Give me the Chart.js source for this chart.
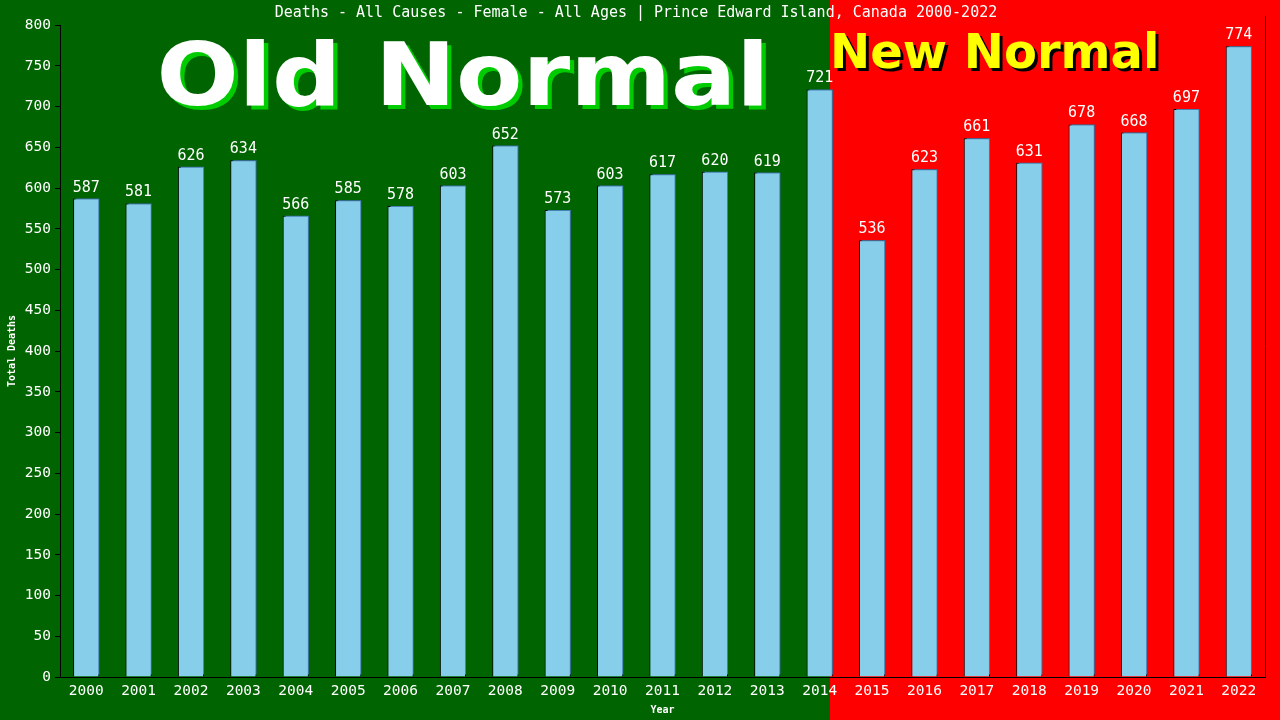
<!DOCTYPE html>
<html>
<head>
<meta charset="utf-8">
<script src="https://cdn.jsdelivr.net/npm/chart.js@4.4.1/dist/chart.umd.min.js"></script>
<style>
  html, body { margin: 0; padding: 0; background: #006400; }
  #wrap { width: 1280px; height: 720px; position: relative; }
</style>
</head>
<body>
<div id="wrap"><canvas id="deathsChart" width="1280" height="720"></canvas></div>
<script>
// ── data ──
const years = ['2000','2001','2002','2003','2004','2005','2006','2007','2008','2009','2010','2011',
  '2012','2013','2014','2015','2016','2017','2018','2019','2020','2021','2022'];
const deaths = [587, 581, 626, 634, 566, 585, 578, 603, 652, 573, 603, 617,
  620, 619, 721, 536, 623, 661, 631, 678, 668, 697, 774];
const yTicks = [0, 50, 100, 150, 200, 250, 300, 350, 400, 450, 500, 550, 600, 650, 700, 750, 800];
const titleText = 'Deaths - All Causes - Female - All Ages | Prince Edward Island, Canada 2000-2022';
const oldLabel = 'Old Normal';
const newLabel = 'New Normal';
const splitYear = '2014';

const MONO = '"DejaVu Sans Mono", "Liberation Mono", monospace';
const SANS = '"DejaVu Sans", Verdana, sans-serif';

// ── background: green old normal, red new normal ──
const backdrop = {
  id: 'backdrop',
  beforeDraw(chart) {
    const { ctx, width, height, scales: { x } } = chart;
    const idx = years.indexOf(splitYear);
    const cat = x.getPixelForValue(1) - x.getPixelForValue(0);
    const split = Math.round(x.getPixelForValue(idx) + cat * 0.19);
    ctx.save();
    ctx.fillStyle = '#006400';
    ctx.fillRect(0, 0, split, height);
    ctx.fillStyle = '#ff0000';
    ctx.fillRect(split, 0, width - split, height);

    // big labels (old one is a bit stretched sideways)
    ctx.textBaseline = 'alphabetic';
    ctx.textAlign = 'center';
    ctx.save();
    ctx.translate(463, 0);
    ctx.scale(1.1, 1);
    ctx.font = 'bold 88px ' + SANS;
    ctx.fillStyle = '#00cc00';
    ctx.fillText(oldLabel, 4, 109);
    ctx.fillStyle = '#ffffff';
    ctx.fillText(oldLabel, 0, 105);
    ctx.restore();

    ctx.textAlign = 'left';
    ctx.font = 'bold 48px ' + SANS;
    ctx.fillStyle = '#000000';
    ctx.fillText(newLabel, split + 3, 71);
    ctx.fillStyle = '#ffff00';
    ctx.fillText(newLabel, split, 68);

    // title
    ctx.textAlign = 'center';
    ctx.textBaseline = 'middle';
    ctx.font = '15px ' + MONO;
    ctx.fillStyle = '#ffffff';
    ctx.fillText(titleText, 636, 13);
    ctx.restore();
  },
  beforeDatasetsDraw(chart) {
    // steel-blue backing edge behind each bar
    const { ctx } = chart;
    ctx.save();
    ctx.shadowColor = '#4682b4';
    ctx.shadowOffsetX = 2;
    ctx.shadowOffsetY = -2;
    ctx.shadowBlur = 0;
  },
  afterDatasetsDraw(chart) {
    const { ctx, chartArea } = chart;
    ctx.restore();
    const meta = chart.getDatasetMeta(0);
    ctx.save();
    ctx.font = '15px ' + MONO;
    ctx.fillStyle = '#ffffff';
    ctx.textAlign = 'center';
    ctx.textBaseline = 'alphabetic';
    meta.data.forEach((bar, i) => {
      ctx.fillText(String(deaths[i]), bar.x, bar.y - 7);
    });
    // right frame line
    ctx.strokeStyle = '#000000';
    ctx.lineWidth = 1;
    ctx.beginPath();
    ctx.moveTo(Math.round(chartArea.right) + 0.5, chartArea.top - 9);
    ctx.lineTo(Math.round(chartArea.right) + 0.5, chartArea.bottom);
    ctx.stroke();
    ctx.restore();
  }
};

new Chart(document.getElementById('deathsChart'), {
  type: 'bar',
  data: {
    labels: years,
    datasets: [{
      data: deaths,
      backgroundColor: '#87ceeb',
      borderColor: '#000000',
      borderWidth: 1,
      borderSkipped: 'bottom',
      categoryPercentage: 1.0,
      barPercentage: 0.5
    }]
  },
  options: {
    responsive: false,
    animation: false,
    layout: { padding: { top: 25, right: 15, left: 0, bottom: 0 } },
    plugins: {
      legend: { display: false },
      tooltip: { enabled: false }
    },
    scales: {
      x: {
        grid: { display: false, drawTicks: false },
        border: { display: true, color: '#000000' },
        ticks: { color: '#ffffff', font: { family: MONO, size: 14.5 }, padding: 6, maxRotation: 0 },
        title: { display: true, text: 'Year', color: '#ffffff', font: { family: MONO, size: 10, weight: 'bold' }, padding: { top: 0 } },
        afterFit: s => { s.height = 43; }
      },
      y: {
        min: 0,
        max: 800,
        afterBuildTicks: s => { s.ticks = yTicks.map(v => ({ value: v })); },
        grid: { drawOnChartArea: false, drawTicks: true, tickLength: 5, color: '#000000' },
        border: { display: true, color: '#000000' },
        ticks: { color: '#ffffff', font: { family: MONO, size: 14.5 }, padding: 4 },
        title: { display: true, text: 'Total Deaths', color: '#ffffff', font: { family: MONO, size: 10, weight: 'bold' }, padding: { top: 6, bottom: 0 } },
        afterFit: s => { s.width = 60; }
      }
    }
  },
  plugins: [backdrop]
});
</script>
</body>
</html>
